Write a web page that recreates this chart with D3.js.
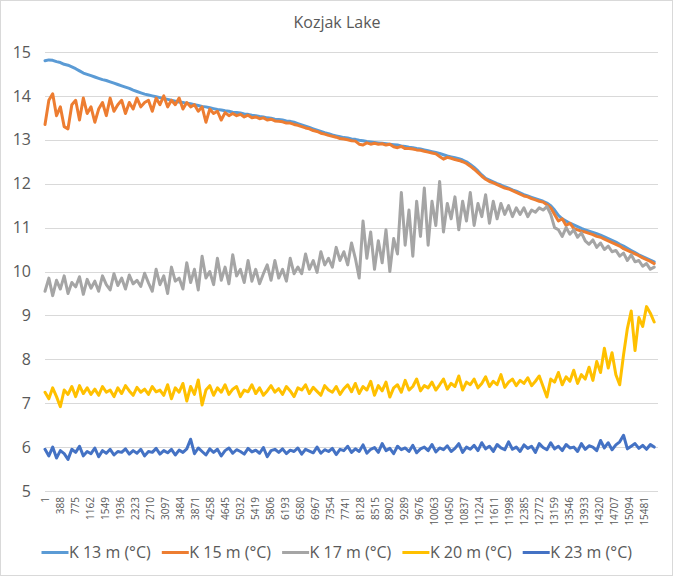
<!DOCTYPE html>
<html>
<head>
<meta charset="utf-8">
<script src="https://d3js.org/d3.v7.min.js"></script>
<style>
  body { margin: 0; background: #fff; }
  text { font-family: "Open Sans", "Noto Sans", sans-serif; fill: #595959; }
</style>
</head>
<body>
<div id="chart"></div>
<script>
var recordCount = 15840;
var recordStep = 99;

var tickLabels = [1, 388, 775, 1162, 1549, 1936, 2323, 2710, 3097, 3484, 3871, 4258, 4645, 5032, 5419,
  5806, 6193, 6580, 6967, 7354, 7741, 8128, 8515, 8902, 9289, 9676, 10063, 10450, 10837, 11224,
  11611, 11998, 12385, 12772, 13159, 13546, 13933, 14320, 14707, 15094, 15481];

var yTicks = [5, 6, 7, 8, 9, 10, 11, 12, 13, 14, 15];

var seriesNames = ["K 13 m (°C)", "K 15 m (°C)", "K 17 m (°C)", "K 20 m (°C)", "K 23 m (°C)"];

var k13 = [14.80, 14.82, 14.81, 14.78, 14.76, 14.72,
  14.70, 14.66, 14.62, 14.57, 14.52, 14.49, 14.46, 14.43, 14.40, 14.37,
  14.35, 14.32, 14.29, 14.26, 14.23, 14.20, 14.17, 14.13, 14.10, 14.07,
  14.04, 14.02, 14.00, 13.98, 13.96, 13.94, 13.92, 13.90, 13.88, 13.86,
  13.85, 13.83, 13.82, 13.80, 13.78, 13.76, 13.75, 13.73, 13.71, 13.69,
  13.68, 13.66, 13.65, 13.63, 13.62, 13.61, 13.59, 13.58, 13.56, 13.55,
  13.53, 13.52, 13.50, 13.49, 13.47, 13.46, 13.45, 13.43, 13.42, 13.40,
  13.37, 13.34, 13.31, 13.28, 13.25, 13.22, 13.19, 13.16, 13.14, 13.11,
  13.09, 13.07, 13.05, 13.04, 13.02, 13.01, 12.99, 12.98, 12.96, 12.95,
  12.94, 12.93, 12.92, 12.91, 12.90, 12.89, 12.88, 12.86, 12.85, 12.83,
  12.82, 12.80, 12.79, 12.77, 12.75, 12.73, 12.71, 12.69, 12.66, 12.63,
  12.61, 12.59, 12.57, 12.54, 12.50, 12.44, 12.37, 12.29, 12.20, 12.12,
  12.08, 12.04, 12.00, 11.97, 11.93, 11.90, 11.86, 11.83, 11.79, 11.75,
  11.72, 11.69, 11.66, 11.63, 11.60, 11.56, 11.50, 11.40, 11.28, 11.20,
  11.15, 11.10, 11.06, 11.02, 10.98, 10.95, 10.92, 10.89, 10.86, 10.83,
  10.79, 10.75, 10.71, 10.67, 10.62, 10.58, 10.53, 10.48, 10.43, 10.38,
  10.34, 10.30, 10.26, 10.22];

var k15 = [13.35, 13.90, 14.05, 13.55, 13.75, 13.30, 13.25, 13.80, 13.90, 13.45,
  13.95, 13.60, 13.75, 13.40, 13.70, 13.85, 13.55, 13.95, 13.65, 13.80,
  13.90, 13.60, 13.85, 13.70, 13.95, 13.75, 13.85, 13.90, 13.65, 13.95,
  13.80, 14.00, 13.75, 13.90, 13.80, 13.95, 13.70, 13.85, 13.75, 13.80,
  13.65, 13.75, 13.40, 13.70, 13.60, 13.65, 13.45, 13.62, 13.55, 13.60,
  13.55, 13.58, 13.52, 13.56, 13.50, 13.52, 13.48, 13.50, 13.45, 13.47,
  13.43, 13.42, 13.41, 13.38, 13.38, 13.35, 13.33, 13.30, 13.27, 13.25,
  13.21, 13.19, 13.15, 13.13, 13.10, 13.08, 13.06, 13.03, 13.02, 13.00,
  12.98, 12.97, 12.90, 12.88, 12.93, 12.90, 12.92, 12.90, 12.91, 12.88,
  12.90, 12.84, 12.82, 12.85, 12.80, 12.80, 12.79, 12.77, 12.76, 12.74,
  12.72, 12.70, 12.68, 12.62, 12.56, 12.60, 12.58, 12.55, 12.53, 12.50,
  12.46, 12.40, 12.33, 12.25, 12.17, 12.10, 12.05, 12.02, 11.98, 11.94,
  11.90, 11.88, 11.84, 11.80, 11.76, 11.72, 11.70, 11.66, 11.63, 11.60,
  11.58, 11.52, 11.45, 11.30, 11.15, 11.20, 11.05, 11.10, 10.98, 10.95,
  10.92, 10.90, 10.87, 10.84, 10.80, 10.78, 10.74, 10.70, 10.66, 10.62,
  10.58, 10.52, 10.48, 10.44, 10.40, 10.36, 10.31, 10.27, 10.23, 10.18];

var k17 = [9.55, 9.85, 9.45, 9.80, 9.60, 9.90, 9.50, 9.75, 9.65, 9.88, 9.48, 9.82, 9.62, 9.78,
  9.55, 9.90, 9.70, 9.58, 9.95, 9.68, 9.85, 9.60, 9.92, 9.72, 9.80, 9.66, 9.96, 9.74,
  9.55, 10.05, 9.70, 9.90, 9.50, 10.10, 9.78, 9.85,
  9.60, 10.20, 9.75, 10.05, 9.58, 10.35, 9.85, 10.00, 9.70,
  10.30, 9.80, 10.10, 9.72, 10.38, 9.90, 10.05, 9.75,
  10.25, 9.78, 10.05, 9.72, 9.95,
  10.15, 9.80, 10.25, 9.85, 10.05, 9.78, 10.30, 9.95, 10.10,
  9.95, 10.40, 10.05, 10.25, 9.98, 10.45, 10.15, 10.30,
  10.10, 10.55, 10.25, 10.45, 10.15, 10.65, 10.30,
  9.85, 11.15, 10.30, 10.90, 10.05, 10.70,
  10.20, 10.95, 10.00, 10.75,
  10.40, 11.80, 10.60, 11.40, 10.35, 11.60,
  10.80, 11.90, 10.60, 11.60, 11.05, 12.05, 10.90, 11.55, 11.20,
  11.70, 10.95, 11.60, 11.15, 11.80, 11.05, 11.55, 11.25, 11.75, 11.10,
  11.60, 11.20, 11.55, 11.30, 11.50, 11.25, 11.45,
  11.30, 11.45, 11.25, 11.40, 11.35, 11.45, 11.40, 11.48,
  11.30, 11.00,
  10.95, 10.80, 11.00, 10.85, 10.95, 10.78, 10.88,
  10.70, 10.62, 10.72, 10.55, 10.65, 10.50, 10.58, 10.45,
  10.48, 10.35, 10.42, 10.25, 10.38, 10.22,
  10.25, 10.12, 10.18, 10.05, 10.10];

var k20 = [7.25, 7.10, 7.35, 7.15, 6.92, 7.30, 7.20, 7.38, 7.15, 7.40, 7.22,
  7.35, 7.20, 7.32, 7.18, 7.38, 7.25, 7.30, 7.15, 7.35, 7.22, 7.40, 7.28, 7.18, 7.36, 7.25,
  7.32, 7.20, 7.38, 7.26, 7.30, 7.18,
  7.42, 7.10, 7.35, 7.25, 7.45, 7.05, 7.38, 7.20, 7.53, 6.96,
  7.30, 7.40, 7.18, 7.35, 7.25, 7.42, 7.20, 7.32, 7.38, 7.15,
  7.30, 7.26, 7.42, 7.22, 7.35, 7.18, 7.28, 7.40, 7.25, 7.33,
  7.20, 7.38, 7.28, 7.15, 7.35, 7.30, 7.42, 7.22, 7.36, 7.27,
  7.18, 7.40, 7.30, 7.25, 7.38, 7.20, 7.33, 7.42, 7.26,
  7.45, 7.22, 7.38, 7.30, 7.50, 7.18, 7.40, 7.28, 7.48, 7.14,
  7.35, 7.42, 7.25, 7.52, 7.30, 7.38, 7.55, 7.28, 7.40, 7.35,
  7.48, 7.30, 7.42,
  7.55, 7.32, 7.45, 7.38, 7.62, 7.30, 7.48, 7.42, 7.55, 7.35,
  7.45, 7.60, 7.38, 7.50, 7.42, 7.65, 7.36, 7.48, 7.55, 7.40,
  7.52, 7.45, 7.58, 7.40, 7.50, 7.62,
  7.38, 7.14, 7.55, 7.48, 7.70, 7.42, 7.60, 7.50, 7.75, 7.45, 7.65, 7.55, 7.82, 7.52,
  7.95, 7.70, 8.25, 7.80, 8.15, 7.65,
  7.42,
  8.10, 8.70, 9.10,
  8.20, 8.95, 8.75, 9.20, 9.05, 8.85];

var k23 = [5.95, 5.80, 6.00, 5.75, 5.92, 5.85, 5.72, 5.95, 5.88, 6.02,
  5.80, 5.90, 5.85, 5.98, 5.78, 5.92, 5.86, 5.95, 5.82, 5.90,
  5.88, 5.96, 5.84,
  5.92, 5.86, 5.95, 5.80, 5.90, 5.88, 5.97, 5.84, 5.92, 5.87,
  5.95, 5.82, 5.93, 5.88, 5.96,
  6.18,
  5.85, 5.98, 5.90, 5.82, 5.96, 5.88, 5.95, 5.80, 5.92, 5.98,
  5.86, 5.94, 5.90, 5.84, 5.97, 5.89, 5.93, 5.86, 5.99, 5.78,
  5.92, 5.95, 5.88, 5.96, 5.85, 5.93, 5.90, 5.98, 5.84, 5.95,
  5.91, 5.87, 6.00, 5.86, 5.94, 5.90, 5.97, 5.83, 5.95, 5.92,
  6.02, 5.88,
  5.96, 5.90, 6.05, 5.86, 5.95, 5.99, 5.88, 6.08, 5.92, 5.97,
  5.85, 6.02, 5.94, 5.98, 5.90, 6.04, 5.87, 5.96, 6.00, 5.92,
  6.06, 5.89, 5.98, 5.94, 6.03, 5.90, 5.97, 6.08, 5.88, 6.00,
  5.95, 6.04,
  5.92, 6.10, 5.96, 6.02, 5.90, 6.06, 5.98, 5.94, 6.12, 5.95,
  6.00, 5.90, 6.05, 5.97, 6.02, 5.88, 6.08, 5.99, 5.94, 6.10,
  5.96, 6.02, 5.92, 6.06, 5.98, 6.00, 5.90, 6.08, 5.95, 6.03,
  6.00, 5.92, 6.15, 5.98, 6.10, 5.94, 6.05, 6.12, 6.27, 5.96,
  6.02, 6.08, 5.97, 6.04, 5.95, 6.06, 6.00];

var colors = ["#5B9BD5", "#ED7D31", "#A5A5A5", "#FFC000", "#4472C4"];

var width = 673, height = 576;
var margin = {top: 52, right: 15, bottom: 85, left: 45};

var svg = d3.select("#chart")
  .append("svg")
  .attr("width", width)
  .attr("height", height);

// chart border
svg.append("rect")
  .attr("x", 0.5).attr("y", 0.5)
  .attr("width", width - 1).attr("height", height - 1)
  .attr("fill", "#fff")
  .attr("stroke", "#D9D9D9");

var x = d3.scaleLinear()
  .domain([0.5, recordCount + 0.5])
  .range([margin.left, width - margin.right]);

var y = d3.scaleLinear()
  .domain([5, 15])
  .range([height - margin.bottom, margin.top]);

// title
svg.append("text")
  .attr("x", 337)
  .attr("y", 28)
  .attr("text-anchor", "middle")
  .style("font-size", "16px")
  .text("Kozjak Lake");

// gridlines
svg.append("g")
  .selectAll("line")
  .data(yTicks)
  .enter()
  .append("line")
    .attr("x1", x.range()[0])
    .attr("x2", x.range()[1])
    .attr("y1", function(d) { return Math.round(y(d)) + 0.5; })
    .attr("y2", function(d) { return Math.round(y(d)) + 0.5; })
    .attr("stroke", "#D9D9D9")
    .attr("stroke-width", 1);

// Y axis labels
var yAxis = svg.append("g")
  .attr("transform", "translate(" + (margin.left - 14) + ",0)")
  .call(d3.axisLeft(y).tickValues(yTicks).tickSize(0).tickPadding(0));
yAxis.select(".domain").remove();
yAxis.selectAll("text")
  .style("font-size", "16px")
  .style("fill", "#595959")
  .style("font-family", "'Open Sans', sans-serif");

// X axis labels (rotated)
var xAxis = svg.append("g")
  .attr("transform", "translate(0," + (height - margin.bottom + 6) + ")")
  .call(d3.axisBottom(x).tickValues(tickLabels).tickFormat(d3.format("d")).tickSize(0).tickPadding(0));
xAxis.select(".domain").remove();
xAxis.selectAll("text")
  .attr("transform", "rotate(-90)")
  .attr("text-anchor", "end")
  .attr("x", 0)
  .attr("y", 0)
  .attr("dy", "0.35em")
  .style("font-size", "10px")
  .style("fill", "#595959")
  .style("font-family", "'Open Sans', sans-serif");

// series
var allSeries = [k13, k15, k17, k20, k23];
var line = d3.line()
  .x(function(d, i) { return x(1 + i * recordStep); })
  .y(function(d) { return y(d); });

svg.append("g")
  .selectAll("path")
  .data(allSeries)
  .enter()
  .append("path")
    .attr("d", line)
    .attr("fill", "none")
    .attr("stroke", function(d, i) { return colors[i]; })
    .attr("stroke-width", 3)
    .attr("stroke-linejoin", "round")
    .attr("stroke-linecap", "round");

// legend
var legend = svg.append("g")
  .selectAll("g")
  .data(seriesNames)
  .enter()
  .append("g")
    .attr("transform", function(d, i) { return "translate(" + (41.5 + i * 120.3) + ",552.5)"; });

legend.append("line")
  .attr("x1", 0).attr("x2", 27)
  .attr("y1", 0).attr("y2", 0)
  .attr("stroke", function(d, i) { return colors[i]; })
  .attr("stroke-width", 3);

legend.append("text")
  .attr("x", 27.5)
  .attr("y", 0)
  .attr("dy", "0.35em")
  .style("font-size", "16px")
  .text(function(d) { return d; });
</script>
</body>
</html>
